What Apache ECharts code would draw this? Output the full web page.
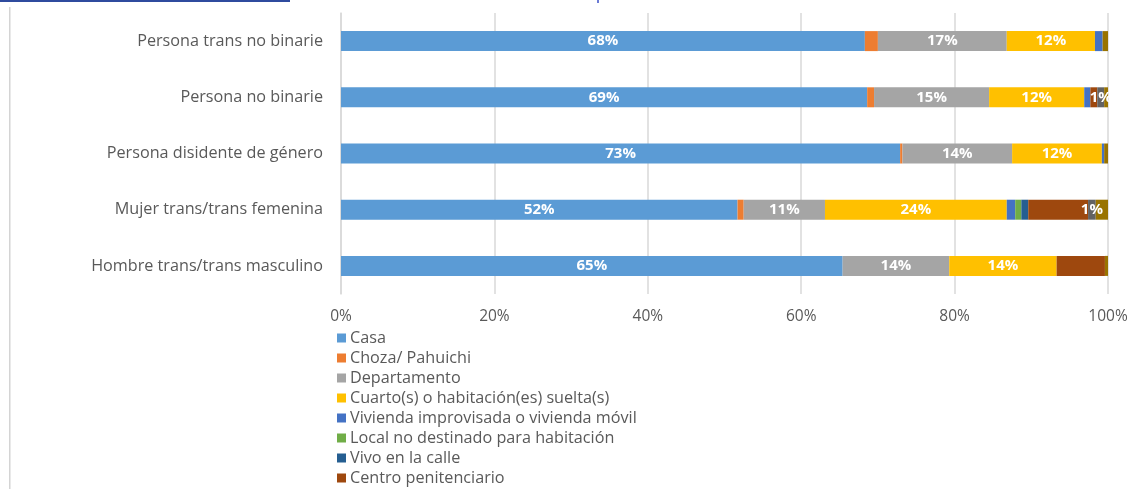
<!DOCTYPE html>
<html>
<head>
<meta charset="utf-8">
<script src="https://cdn.jsdelivr.net/npm/echarts@6/dist/echarts.min.js"></script>
<style>
  html, body { margin: 0; padding: 0; background: #ffffff; }
  #chart { width: 1132px; height: 489px; }
</style>
</head>
<body>
<div id="chart"></div>
<script>
// Tipo de vivienda por identidad de género (% por fila)
const categories = [
  'Persona trans no binarie',
  'Persona no binarie',
  'Persona disidente de género',
  'Mujer trans/trans femenina',
  'Hombre trans/trans masculino'
];
const seriesNames = [
  'Casa',
  'Choza/ Pahuichi',
  'Departamento',
  'Cuarto(s) o habitación(es) suelta(s)',
  'Vivienda improvisada o vivienda móvil',
  'Local no destinado para habitación',
  'Vivo en la calle',
  'Centro penitenciario',
  'Otro',
  'No responde'
];
const casa                = [68.3, 68.6, 72.9, 51.7, 65.4];
const choza               = [1.7, 0.9, 0.3, 0.8, 0];
const departamento        = [16.8, 15.0, 14.3, 10.6, 13.9];
const cuarto              = [11.5, 12.4, 11.7, 23.7, 14.0];
const viviendaImprovisada = [1.0, 0.8, 0.3, 1.1, 0];
const localNoHabitacion   = [0, 0, 0, 0.8, 0];
const calle               = [0, 0, 0, 0.9, 0];
const penitenciario       = [0, 0.9, 0, 7.8, 6.3];
const otro                = [0, 0.9, 0, 1.0, 0];
const noResponde          = [0.7, 0.5, 0.5, 1.6, 0.4];
const xTicks = [0, 20, 40, 60, 80, 100];

const values = [casa, choza, departamento, cuarto, viviendaImprovisada,
                localNoHabitacion, calle, penitenciario, otro, noResponde];
const colors = ['#5B9BD5', '#ED7D31', '#A5A5A5', '#FFC000', '#4472C4',
                '#70AD47', '#255E91', '#9E480E', '#636363', '#997300'];
const labelled = [true, false, true, true, false, false, false, false, true, false];

const FONT = '"Open Sans", Lato, sans-serif';
const GREY_TEXT = '#595959';

const chart = echarts.init(document.getElementById('chart'), null, { renderer: 'canvas' });

const series = values.map((data, i) => ({
  name: seriesNames[i],
  type: 'bar',
  stack: 'total',
  barWidth: 20,
  itemStyle: { color: colors[i] },
  label: {
    show: labelled[i],
    position: 'inside',
    color: '#ffffff',
    fontFamily: FONT,
    fontWeight: 'bold',
    fontSize: 15,
    formatter: p => (p.value > 0 ? Math.round(p.value) + '%' : '')
  },
  emphasis: { disabled: true },
  data: data
}));

chart.setOption({
  animation: false,
  color: colors,
  textStyle: { fontFamily: FONT },
  grid: { left: 341, right: 24, top: 13, bottom: 195, containLabel: false },
  xAxis: {
    type: 'value',
    min: xTicks[0],
    max: xTicks[xTicks.length - 1],
    interval: xTicks[1] - xTicks[0],
    axisLine: { show: false },
    axisTick: { show: false },
    splitLine: { show: true, lineStyle: { color: '#d9d9d9', width: 1.5 } },
    axisLabel: {
      color: GREY_TEXT,
      fontFamily: FONT,
      fontSize: 15.5,
      margin: 15,
      formatter: '{value}%'
    }
  },
  yAxis: {
    type: 'category',
    inverse: true,
    data: categories,
    axisLine: { show: true, lineStyle: { color: '#d9d9d9', width: 1.5 } },
    axisTick: { show: false },
    axisLabel: {
      color: GREY_TEXT,
      fontFamily: FONT,
      fontSize: 16.2,
      margin: 18
    }
  },
  legend: {
    orient: 'vertical',
    left: 337,
    top: 330,
    height: 240,
    data: seriesNames.slice(0, 8),
    icon: 'rect',
    itemWidth: 9,
    itemHeight: 9,
    itemGap: 4,
    padding: 0,
    selectedMode: false,
    textStyle: {
      color: GREY_TEXT,
      fontFamily: FONT,
      fontSize: 16.2,
      lineHeight: 16,
      padding: [0, 0, 0, -1]
    }
  },
  graphic: [
    { type: 'rect', shape: { x: 0, y: 0, width: 290, height: 2 }, style: { fill: '#2F4B9E' }, silent: true },
    { type: 'rect', shape: { x: 597, y: 0, width: 2, height: 3 }, style: { fill: '#6B7BD5' }, silent: true },
    { type: 'rect', shape: { x: 9, y: 7, width: 1.5, height: 482 }, style: { fill: '#d4d4d4' }, silent: true }
  ],
  series: series
});
</script>
</body>
</html>
